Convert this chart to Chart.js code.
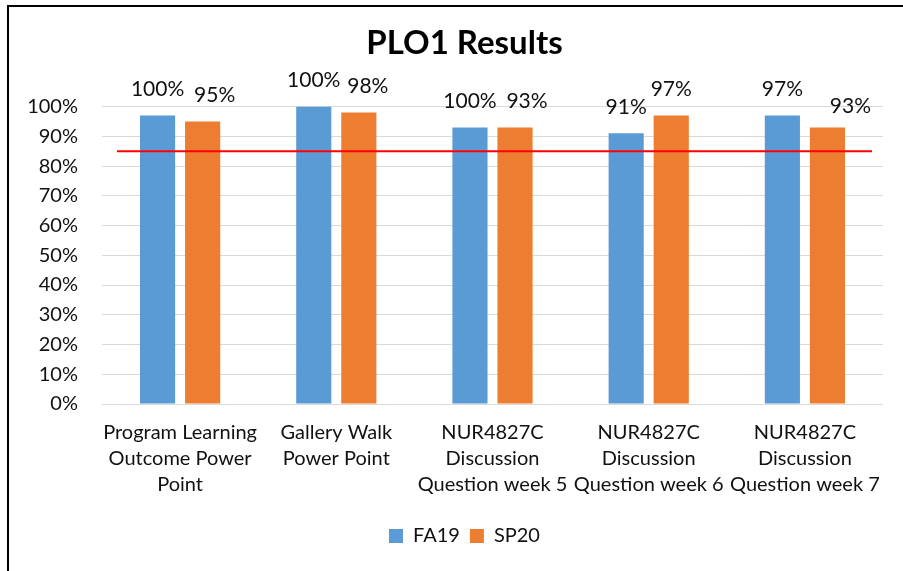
<!DOCTYPE html>
<html>
<head>
<meta charset="utf-8">
<script src="https://cdn.jsdelivr.net/npm/chart.js@4"></script>
<style>
  body { margin: 0; background: #fff; }
  #wrap { position: relative; width: 903px; height: 571px; }
  #frame { position: absolute; left: 7px; top: 5px; right: -10px; bottom: -10px; border-left: 2px solid #000; border-top: 2px solid #000; pointer-events: none; }
</style>
</head>
<body>
<div id="wrap">
  <canvas id="plo1Chart" width="903" height="571"></canvas>
  <div id="frame"></div>
</div>
<script>
// DATA
const categories = [
  ['Program Learning', 'Outcome Power', 'Point'],
  ['Gallery Walk', 'Power Point'],
  ['NUR4827C', 'Discussion', 'Question week 5'],
  ['NUR4827C', 'Discussion', 'Question week 6'],
  ['NUR4827C', 'Discussion', 'Question week 7']
];
const fa19 = [97, 100, 93, 91, 97];
const sp20 = [95, 98, 93, 97, 93];
const fa19Labels = ['100%', '100%', '100%', '91%', '97%'];
const sp20Labels = ['95%', '98%', '93%', '97%', '93%'];
const target = 85;

const FONT = 'Lato, "Noto Sans", sans-serif';

// labels above bars (some were dragged sideways in the original)
const labelNudge = [
  [[0, 0], [0, 0], [0, 0], [0, 0], [0, 0]],
  [[12, 0], [9, 0], [12, 0], [0, 0], [23, 5]]
];
const barLabels = {
  id: 'barLabels',
  afterDatasetsDraw(chart) {
    const ctx = chart.ctx;
    const texts = [fa19Labels, sp20Labels];
    ctx.save();
    ctx.font = '21px ' + FONT;
    ctx.fillStyle = '#111';
    ctx.textAlign = 'center';
    ctx.textBaseline = 'middle';
    chart.data.datasets.forEach((ds, di) => {
      chart.getDatasetMeta(di).data.forEach((bar, i) => {
        const [dx, dy] = labelNudge[di][i];
        ctx.fillText(texts[di][i], bar.x + dx, bar.y - 26 + dy);
      });
    });
    ctx.restore();
  }
};

// red target line
const targetLine = {
  id: 'targetLine',
  afterDatasetsDraw(chart) {
    const ctx = chart.ctx;
    const area = chart.chartArea;
    const y = chart.scales.y.getPixelForValue(target);
    ctx.save();
    ctx.strokeStyle = '#ff0000';
    ctx.lineWidth = 2;
    ctx.beginPath();
    ctx.moveTo(area.left + 15, y);
    ctx.lineTo(area.right - 11, y);
    ctx.stroke();
    ctx.restore();
  }
};

// title and legend sit a bit right of the canvas centre
const shiftBlocks = {
  id: 'shiftBlocks',
  afterLayout(chart) {
    [chart.titleBlock, chart.legend].forEach(b => {
      if (!b) return;
      b.left += 23;
      b.right += 23;
    });
  }
};

new Chart(document.getElementById('plo1Chart'), {
  type: 'bar',
  data: {
    labels: categories,
    datasets: [
      { label: 'FA19', data: fa19, backgroundColor: '#5b9bd5', categoryPercentage: 0.577, barPercentage: 0.78 },
      { label: 'SP20', data: sp20, backgroundColor: '#ed7d31', categoryPercentage: 0.577, barPercentage: 0.78 }
    ]
  },
  options: {
    responsive: false,
    animation: false,
    layout: { padding: { top: 24, right: 20, bottom: 15, left: 0 } },
    plugins: {
      title: {
        display: true,
        text: 'PLO1 Results',
        color: '#000',
        font: { family: FONT, size: 33, weight: 'bold', lineHeight: 1.2 },
        padding: { top: 0, bottom: 43 }
      },
      legend: {
        position: 'bottom',
        labels: {
          color: '#111',
          font: { family: FONT, size: 20 },
          boxWidth: 14,
          boxHeight: 14,
          padding: 10
        }
      },
      tooltip: { enabled: false }
    },
    scales: {
      x: {
        grid: { display: false },
        border: { display: false },
        ticks: {
          color: '#111',
          font: { family: FONT, size: 20, lineHeight: 1.3 },
          padding: 8,
          maxRotation: 0,
          autoSkip: false
        },
        afterFit(scale) { scale.height = 112; }
      },
      y: {
        min: 0,
        max: 100,
        grid: { color: '#d9d9d9', lineWidth: 1, drawTicks: false },
        border: { display: false },
        ticks: {
          stepSize: 10,
          color: '#111',
          font: { family: FONT, size: 20 },
          padding: 24,
          callback: v => v + '%'
        },
        afterFit(scale) { scale.width = 102; }
      }
    }
  },
  plugins: [barLabels, targetLine, shiftBlocks]
});
</script>
</body>
</html>
